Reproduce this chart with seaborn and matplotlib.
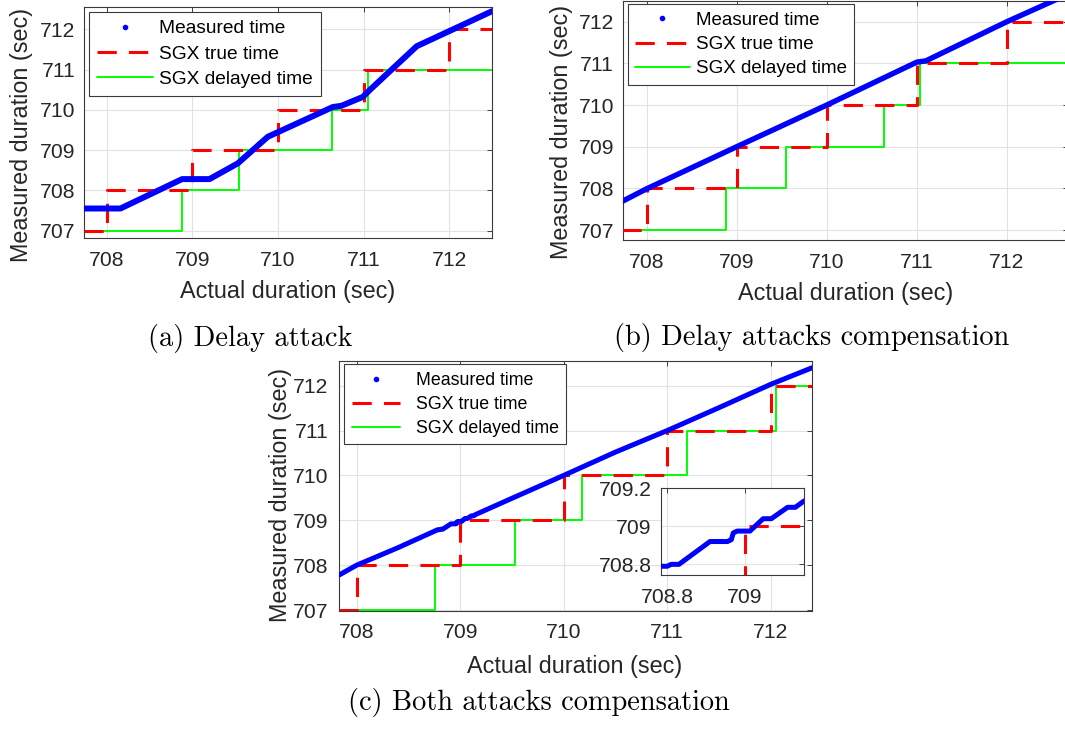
import matplotlib
matplotlib.use("Agg")
import matplotlib.pyplot as plt
from matplotlib.lines import Line2D
from matplotlib.ticker import FuncFormatter
import seaborn as sns

# ---------------- data ----------------
legend_labels = ["Measured time", "SGX true time", "SGX delayed time"]
captions = ["(a) Delay attack", "(b) Delay attacks compensation", "(c) Both attacks compensation"]
x_label = "Actual duration (sec)"
y_label = "Measured duration (sec)"
x_ticks = [708, 709, 710, 711, 712]
y_ticks = [707, 708, 709, 710, 711, 712]
inset_x_ticks = [708.8, 709.0]
inset_y_ticks = [708.8, 709.0, 709.2]

# (a) Delay attack
a_meas_x = [707.73, 708.16, 708.88, 709.20, 709.53, 709.88, 710.64, 710.74, 710.99, 711.07, 711.62, 712.50]
a_meas_y = [707.55, 707.55, 708.28, 708.28, 708.67, 709.33, 710.07, 710.10, 710.32, 710.49, 711.58, 712.45]
a_true_x = [707.73, 708.0, 709.0, 710.0, 711.0, 712.0, 712.5]
a_true_y = [707, 708, 709, 710, 711, 712, 712]
a_delay_x = [707.73, 708.88, 709.55, 710.63, 711.05, 712.5]
a_delay_y = [707, 708, 709, 710, 711, 711]

# (b) Delay attacks compensation
b_meas_x = [707.73, 708.0, 709.0, 710.0, 711.0, 711.1, 712.0, 712.7]
b_meas_y = [707.69, 707.99, 709.0, 710.0, 711.03, 711.06, 712.0, 712.68]
b_true_x = [707.73, 708.0, 709.0, 710.0, 711.0, 712.0, 712.7]
b_true_y = [707, 708, 709, 710, 711, 712, 712]
b_delay_x = [707.73, 708.88, 709.55, 710.64, 711.04, 712.7]
b_delay_y = [707, 708, 709, 710, 711, 711]

# (c) Both attacks compensation
c_meas_x = [707.83, 708.0, 708.4, 708.783, 708.80, 708.81, 708.83, 708.91, 708.955, 708.965,
            708.97, 708.98, 709.013, 709.047, 709.068, 709.11, 709.13, 709.15, 709.5, 710.0,
            710.5, 711.0, 711.5, 712.0, 712.4]
c_meas_y = [707.78, 708.0, 708.39, 708.79, 708.79, 708.80, 708.80, 708.92, 708.92, 708.93,
            708.965, 708.975, 708.975, 709.04, 709.04, 709.10, 709.10, 709.13, 709.49, 710.0,
            710.52, 711.0, 711.51, 712.03, 712.4]
c_true_x = [707.83, 708.0, 709.0, 710.0, 711.0, 712.0, 712.4]
c_true_y = [707, 708, 709, 710, 711, 712, 712]
c_delay_x = [707.83, 708.76, 709.53, 710.18, 711.19, 712.05, 712.4]
c_delay_y = [707, 708, 709, 710, 711, 712, 712]

# ---------------- style ----------------
sns.set_style("white")
plt.rcParams['font.family'] = ['Liberation Sans', 'DejaVu Sans']

BLUE, RED, GREEN = '#0000ff', '#ff0000', '#00ff00'
DARK = '#262626'
FRAME = '#3a3a3a'
GRID = '#e2e2e2'
DASH = (0, (6.3, 4))
TICK_FS, LABEL_FS = 15.2, 16.8

W, H = 1065, 731
fig = plt.figure(figsize=(W / 100, H / 100), dpi=100)


def px_axes(l, t, r, b):
    return fig.add_axes([l / W, 1 - b / H, (r - l) / W, (b - t) / H])


def draw_series(ax, mx, my, tx, ty, dx, dy, meas_lw):
    sns.lineplot(x=dx, y=dy, ax=ax, color=GREEN, linewidth=1.4,
                 drawstyle='steps-post', estimator=None, sort=False, zorder=2)
    sns.lineplot(x=tx, y=ty, ax=ax, color=RED, linewidth=2.2, linestyle=DASH,
                 drawstyle='steps-post', estimator=None, sort=False, zorder=3)
    sns.lineplot(x=mx, y=my, ax=ax, color=BLUE, linewidth=meas_lw,
                 estimator=None, sort=False, zorder=4,
                 solid_capstyle='round', solid_joinstyle='round')


def style_axes(ax, xlim, ylim, xt, yt, xpad=9.5, ypad=6.2):
    ax.set_xlim(*xlim)
    ax.set_ylim(*ylim)
    ax.set_xticks(xt)
    ax.set_yticks(yt)
    fmt = FuncFormatter(lambda v, p: f"{v:g}")
    ax.xaxis.set_major_formatter(fmt)
    ax.yaxis.set_major_formatter(fmt)
    ax.grid(True, color=GRID, linewidth=0.8)
    ax.set_axisbelow(True)
    ax.tick_params(direction='in', top=True, right=True, length=3.5, width=0.6,
                   colors=DARK, labelsize=TICK_FS)
    ax.tick_params(axis='x', pad=xpad)
    ax.tick_params(axis='y', pad=ypad)
    for s in ax.spines.values():
        s.set_color(FRAME)
        s.set_linewidth(0.8)
        s.set_visible(True)
    ax.set_facecolor('white')


def labels(ax, xl_coords, yl_coords):
    ax.set_xlabel(x_label, fontsize=LABEL_FS, color=DARK)
    ax.set_ylabel(y_label, fontsize=LABEL_FS, color=DARK)
    ax.xaxis.set_label_coords(*xl_coords)
    ax.yaxis.set_label_coords(*yl_coords)


def legend(ax, l, t, fs, hl, htp, ls, bp=0.4):
    handles = [Line2D([], [], color=BLUE, marker='o', markersize=3.0, linestyle='None'),
               Line2D([], [], color=RED, linewidth=2.2, linestyle=DASH),
               Line2D([], [], color=GREEN, linewidth=1.4)]
    leg = ax.legend(handles, legend_labels, loc='upper left',
                    bbox_to_anchor=(l / W, 1 - t / H), bbox_transform=fig.transFigure,
                    borderaxespad=0, frameon=True, fancybox=False, framealpha=1,
                    edgecolor=FRAME, facecolor='white', fontsize=fs,
                    handlelength=hl, handletextpad=htp, borderpad=bp,
                    labelspacing=ls, numpoints=1)
    leg.get_frame().set_linewidth(0.8)
    for t_ in leg.get_texts():
        t_.set_color('black')
    leg.set_zorder(10)


# ---- (a) ----
ax_a = px_axes(84.3, 7.3, 491.7, 238.3)
draw_series(ax_a, a_meas_x, a_meas_y, a_true_x, a_true_y, a_delay_x, a_delay_y, 4.3)
style_axes(ax_a, (707.738, 712.495), (706.81, 712.546), x_ticks, y_ticks)
labels(ax_a, (0.5, -0.1805), (-0.126, 0.448))
legend(ax_a, 89.3, 12.3, 13.8, 2.9, 0.36, 0.41)

# ---- (b) ----
ax_b = px_axes(622.7, 0.5, 1068, 240)
draw_series(ax_b, b_meas_x, b_meas_y, b_true_x, b_true_y, b_delay_x, b_delay_y, 3.9)
style_axes(ax_b, (707.733, 712.68), (706.76, 712.51), x_ticks, y_ticks)
labels(ax_b, (0.5015, -0.174), (-0.1105, 0.45))
legend(ax_b, 627.7, 4.3, 13.5, 2.9, 0.32, 0.38)

# ---- (c) ----
ax_c = px_axes(339, 360.7, 811.7, 611)
draw_series(ax_c, c_meas_x, c_meas_y, c_true_x, c_true_y, c_delay_x, c_delay_y, 3.6)
style_axes(ax_c, (707.829, 712.396), (706.978, 712.557), x_ticks, y_ticks, xpad=8.9, ypad=7.5)
labels(ax_c, (0.498, -0.1758), (-0.0994, 0.4635))
legend(ax_c, 344, 364.3, 12.8, 2.7, 0.9, 0.39, bp=0.43)

# inset of (c)
ax_i = px_axes(660.7, 488.3, 803.5, 575)
draw_series(ax_i, c_meas_x, c_meas_y, c_true_x, c_true_y, c_delay_x, c_delay_y, 3.6)
style_axes(ax_i, (708.783, 709.151), (708.744, 709.197), inset_x_ticks, inset_y_ticks,
           xpad=9.5, ypad=6.5)
ax_i.set_xlabel("")
ax_i.set_ylabel("")

# ---- captions ----
cap_kw = dict(fontfamily='cmr10', fontsize=20.4, color='black', ha='center', va='center')
fig.text(250.3 / W, 1 - 338.8 / H, captions[0], **cap_kw)
fig.text(811.3 / W, 1 - 337.5 / H, captions[1], **cap_kw)
fig.text(539.2 / W, 1 - 702.5 / H, captions[2], **cap_kw)

fig.savefig("out.png", dpi=100)
